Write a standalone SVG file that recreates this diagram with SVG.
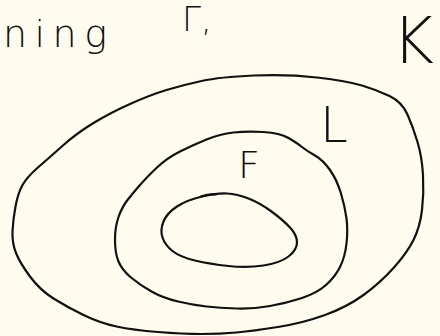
<svg xmlns="http://www.w3.org/2000/svg" width="440" height="336" viewBox="0 0 440 336">
<style>
.loop{fill:none;stroke:#111;stroke-width:2.2;stroke-linecap:round;stroke-linejoin:round}
.hand{font-family:"DejaVu Sans","Liberation Sans",sans-serif;font-weight:200;fill:#111}
</style>
<rect width="440" height="336" fill="#fffcef"/>
<g id="label-ning"><text class="hand" x="3" y="47" font-size="38" textLength="104" lengthAdjust="spacing">ning</text></g>
<g id="label-gamma"><text class="hand" x="182" y="31" font-size="34">Γ,</text></g>
<g id="region-K">
<path class="loop" d="M 253.5,75.5 Q 287,74 317,77.5 Q 347,81 362,85.5 Q 377,90 389.5,96 Q 402,102 407.5,114.5 Q 413,127 417.5,142 Q 422,157 423,175 Q 424,193 422,210 Q 420,227 413.5,240 Q 407,253 393.5,268 Q 380,283 363.5,295 Q 347,307 325,315 Q 303,323 278,327 Q 253,331 236.5,332.5 Q 220,334 201.5,334 Q 183,334 158,332 Q 133,330 116.5,326.5 Q 100,323 83.5,315 Q 67,307 53.5,298.5 Q 40,290 30,276.5 Q 20,263 16,253 Q 12,243 12.5,231.5 Q 13,220 15.5,206.5 Q 18,193 22.5,185 Q 27,177 38.5,167 Q 50,157 63.5,145 Q 77,133 93.5,123 Q 110,113 130,104 Q 150,95 166.5,90 Q 183,85 201.5,81 Q 220,77 253.5,75.5 Z"/>
<text class="hand" x="392" y="63" font-size="64">K</text>
</g>
<g id="region-L">
<path class="loop" d="M 233.5,132.5 Q 247,131 263.5,132 Q 280,133 288.5,138 Q 297,143 302,147 Q 307,151 315,155.5 Q 323,160 330,170 Q 337,180 341,193.5 Q 345,207 346.5,218.5 Q 348,230 346.5,243.5 Q 345,257 340,267 Q 335,277 326,285 Q 317,293 302,298 Q 287,303 270,306 Q 253,309 236.5,308.5 Q 220,308 206.5,306.5 Q 193,305 178,301.5 Q 163,298 151.5,291.5 Q 140,285 131,277.5 Q 122,270 118.5,261.5 Q 115,253 115,240 Q 115,227 118.5,217 Q 122,207 127.5,200 Q 133,193 140,185 Q 147,177 157,167.5 Q 167,158 180,151.5 Q 193,145 206.5,139.5 Q 220,134 233.5,132.5 Z"/>
<text class="hand" x="320" y="142" font-size="50">L</text>
</g>
<g id="region-F">
<path class="loop" d="M 227,193.5 Q 237,194 248.5,198.5 Q 260,203 271.5,211.5 Q 283,220 290,227.5 Q 297,235 297,242.5 Q 297,250 288.5,256.5 Q 280,263 263.5,265.5 Q 247,268 228.5,266 Q 210,264 195,260.5 Q 180,257 172.5,251 Q 165,245 162.5,237.5 Q 160,230 163.5,221.5 Q 167,213 177,206.5 Q 187,200 202,196.5 Q 217,193 227,193.5 Z"/>
<path class="loop" d="M 201,196.5 Q 208,194 216,194.5"/>
<text class="hand" x="238" y="178" font-size="38">F</text>
</g>
</svg>
